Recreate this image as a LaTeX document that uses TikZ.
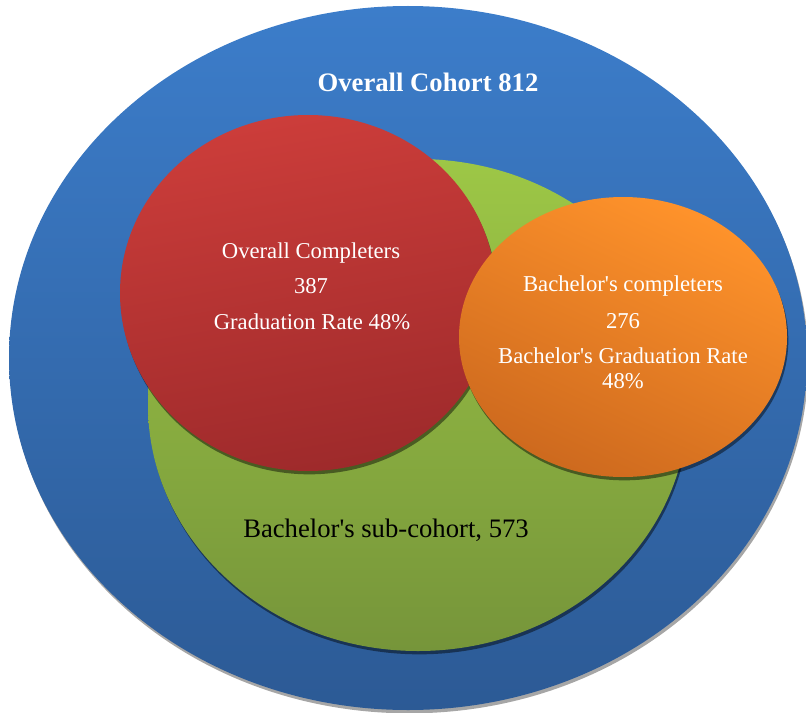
\documentclass[tikz,border=0pt]{standalone}
\usepackage{fontspec}
\setmainfont{Liberation Serif}
\usetikzlibrary{shapes.geometric,shadows}

\definecolor{cohorttop}{HTML}{3C7DCA}
\definecolor{cohortbot}{HTML}{2C5A95}
\definecolor{subtop}{HTML}{9DC746}
\definecolor{subbot}{HTML}{76953A}
\definecolor{comptop}{HTML}{CC3D3A}
\definecolor{compbot}{HTML}{9E2A2B}
\definecolor{bachtop}{HTML}{FF932B}
\definecolor{bachbot}{HTML}{CD691E}

\tikzset{
    setshape/.style={ellipse, inner sep=0pt},
    setshadow/.style={drop shadow={shadow xshift=1pt, shadow yshift=-2.5pt, opacity=.45, fill=black}},
    settext/.style={text=white, font=\fontsize{17}{19}\selectfont},
}

\begin{document}
\begin{tikzpicture}[x=0.75pt, y=-0.75pt]
    \useasboundingbox (0,0) rectangle (806,713);
    \node (cohort) [setshape, minimum width=598.5pt, minimum height=528pt, top color=cohorttop, bottom color=cohortbot,
        drop shadow={shadow xshift=1pt, shadow yshift=-2.5pt, opacity=1, fill=gray!70}] at (408,358) {};
    \node (subcohort) [setshape, setshadow, minimum width=405pt, minimum height=369pt, top color=subtop, bottom color=subbot] at (418,405) {};
    \node (completers) [setshape, setshadow, minimum width=282pt, minimum height=267pt, top color=comptop, bottom color=compbot, shading angle=10] at (308,293) {};
    \node (bachelors) [setshape, setshadow, minimum width=246pt, minimum height=210pt, top color=bachtop, bottom color=bachbot, shading angle=-25] at (623,337) {};
    \node (cohort_label) [text=white, font=\bfseries\fontsize{20}{24}\selectfont] at (428,82) {Overall Cohort 812};
    \node (completers_label) [settext] at (311,253) {Overall Completers};
    \node (completers_count) [settext] at (311,286) {387};
    \node (completers_rate) [settext] at (312,322) {Graduation Rate 48\%};
    \node (bachelors_label) [settext] at (623,286) {Bachelor\textquotesingle s completers};
    \node (bachelors_count) [settext] at (623,321) {276};
    \node (bachelors_rate) [settext, align=center] at (623,368) {Bachelor\textquotesingle s Graduation Rate\\48\%};
    \node (subcohort_label) [font=\fontsize{20}{24}\selectfont] at (386,530) {Bachelor\textquotesingle s sub-cohort, 573};
\end{tikzpicture}
\end{document}
